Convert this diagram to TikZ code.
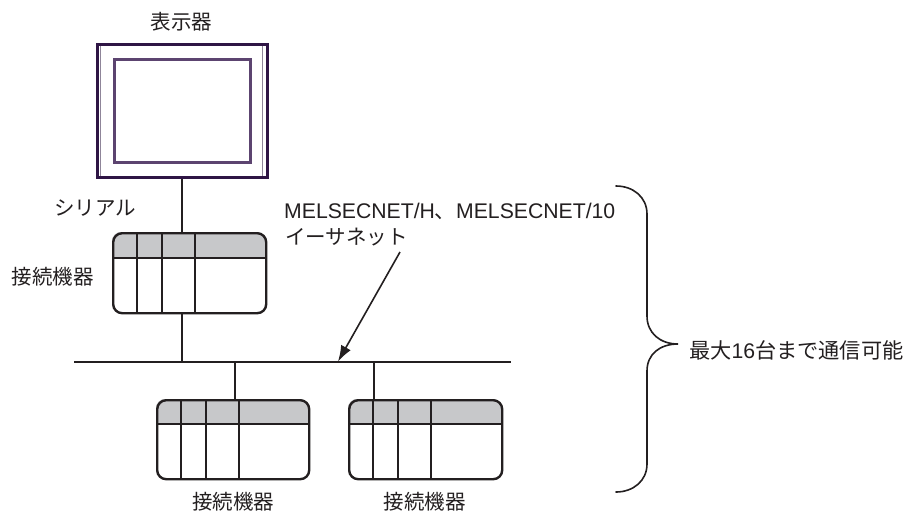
\documentclass[tikz,border=0pt]{standalone}
\usepackage{fontspec}
\setmainfont{Liberation Sans}
\newfontfamily\cjk{Noto Sans CJK JP}
\usetikzlibrary{arrows.meta}
\definecolor{ink}{HTML}{231F20}
\definecolor{headgray}{HTML}{C7C8CA}
\definecolor{frameouter}{HTML}{2F1545}
\definecolor{frameinner}{HTML}{5C4470}
\definecolor{framegap}{HTML}{8F8599}
\tikzset{
  lbl/.style={font=\cjk\fontsize{20.5}{24}\selectfont, text=ink, inner sep=0pt},
  wire/.style={draw=ink, line width=1.6pt},
  boxline/.style={draw=ink, line width=2.4pt},
  plcbody/.style={boxline, rectangle, rounded corners=9pt, inner sep=0pt, anchor=north west},
  pointer/.style={wire, -{Latex[length=16pt,width=11pt]}},
}
\newcommand{\plcunit}[9]{%
  \begin{scope}
    \clip[rounded corners=9pt] (#2,#3) rectangle (#4,#5);
    \fill[headgray] (#2,#3) rectangle (#4,#6);
  \end{scope}
  \node[plcbody, minimum width=#4pt-#2pt, minimum height=#5pt-#3pt] (#1) at (#2,#3) {};
  \draw[boxline] (#2,#6) -- (#4,#6);
  \draw[boxline] (#7,#3) -- (#7,#5);
  \draw[boxline] (#8,#3) -- (#8,#5);
  \draw[boxline] (#9,#3) -- (#9,#5);
}
\begin{document}
\begin{tikzpicture}[x=1pt,y=-1pt]
\useasboundingbox (0,0) rectangle (907,512);
% display
\node[draw=framegap, line width=1pt, rectangle, inner sep=0pt, minimum width=162pt, minimum height=133pt, anchor=north west] (framegapbox) at (100,43) {};
\node[draw=frameouter, line width=3pt, rectangle, inner sep=0pt, minimum width=170pt, minimum height=133pt, anchor=north west] (monitor) at (96,43) {};
\node[draw=frameinner, line width=3pt, rectangle, inner sep=0pt, minimum width=136pt, minimum height=103pt, anchor=north west] (screen) at (113,58) {};
\node[lbl] (lmonitor) at (181.5,22) {表示器};
% devices
\plcunit{plca}{112}{232}{265}{312}{258}{137}{162}{195}
\plcunit{plcb}{156}{399}{308}{478}{424}{181}{206}{239}
\plcunit{plcc}{348}{399}{501}{478}{424}{373}{398}{431}
% network
\coordinate (busl) at (74,362);
\coordinate (busr) at (511,362);
\coordinate (tapa) at (182,362);
\coordinate (tapb) at (235,362);
\coordinate (tapc) at (374,362);
\coordinate (arrowtip) at (338,361.5);
\coordinate (arrowtail) at (400,252);
\draw[wire] (busl) -- (busr);
\draw[wire] (tapa |- monitor.south) -- (tapa |- plca.north);
\draw[wire] (tapa |- plca.south) -- (tapa);
\draw[wire] (tapb) -- (tapb |- plcb.north);
\draw[wire] (tapc) -- (tapc |- plcc.north);
\draw[pointer] (arrowtail) -- (arrowtip);
% brace
\coordinate (bracetop) at (616,186);
\coordinate (bracetip) at (678,344);
\coordinate (bracebot) at (616,492);
\draw[wire, line cap=round] (bracetop)
  .. controls (633,186) and (647,197) .. (647,214)
  -- (647,316)
  .. controls (647,333) and (660,344) .. (bracetip)
  .. controls (660,344) and (647,354) .. (647,371)
  -- (647,464)
  .. controls (647,481) and (633,492) .. (bracebot);
% labels
\node[lbl] (lserial) at (95,208) {シリアル};
\node[lbl] (lplca) at (53,277) {接続機器};
\node[lbl] (lplcb) at (233,502) {接続機器};
\node[lbl] (lplcc) at (424.5,502) {接続機器};
\node[lbl, anchor=west] (lnet) at (284,211) {\fontspec{Liberation Sans}\fontsize{21.2}{24}\selectfont MELSECNET/H{\cjk 、}MELSECNET/10};
\node[lbl, anchor=west] (leth) at (285,237) {イーサネット};
\node[lbl, anchor=west, font=\cjk\fontsize{21.2}{24}\selectfont] (lmax) at (689,350) {最大{\fontspec{Liberation Sans}\fontsize{21.2}{24}\selectfont 16}台まで通信可能};
\end{tikzpicture}
\end{document}
